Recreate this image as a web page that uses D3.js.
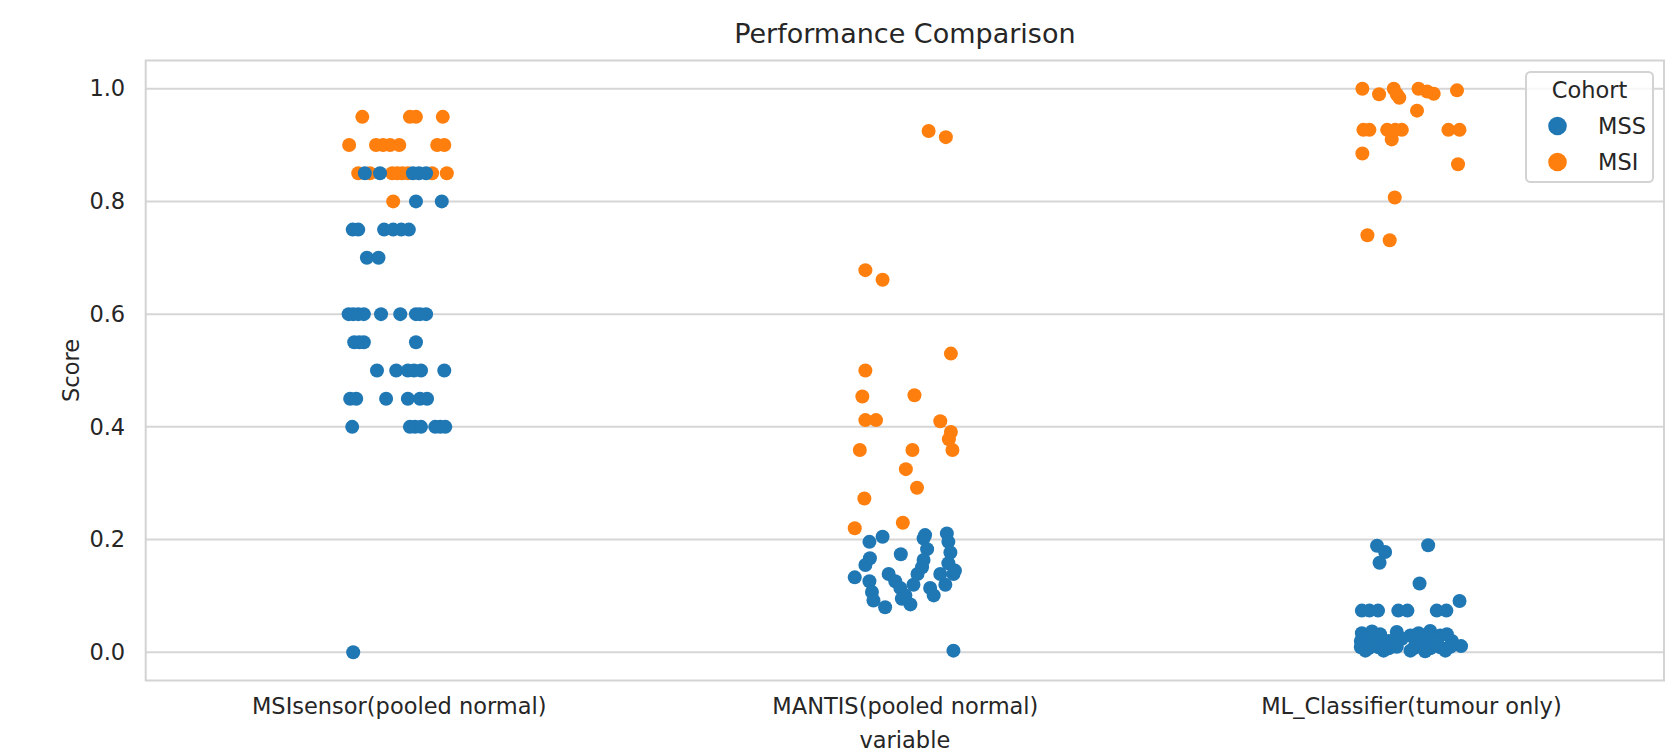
<!DOCTYPE html>
<html>
<head>
<meta charset="utf-8">
<script src="https://cdn.jsdelivr.net/npm/d3@7"></script>
<style>
  body { margin: 0; background: #fff; }
  svg text { font-family: "DejaVu Sans", sans-serif; fill: #262626; }
</style>
</head>
<body>
<div id="scatter"></div>
<script>
// Chart data

var categories = ["MSIsensor(pooled normal)", "MANTIS(pooled normal)", "ML_Classifier(tumour only)"];
var cohorts = ["MSS", "MSI"];
var cohortColors = ["#1f77b4", "#ff7f0e"];
var yTicks = [0.0, 0.2, 0.4, 0.6, 0.8, 1.0];

// each point is [score, jitter] (jitter = strip offset in category units)
var msisensorMSI = [
  [0.95, -0.072], [0.95, 0.022], [0.95, 0.034], [0.95, 0.087],
  [0.9, -0.098], [0.9, -0.045], [0.9, -0.031], [0.9, -0.017], [0.9, 0.001], [0.9, 0.076], [0.9, 0.090],
  [0.85, -0.080], [0.85, -0.057], [0.85, -0.013], [0.85, -0.003], [0.85, 0.007], [0.85, 0.018], [0.85, 0.066], [0.85, 0.095],
  [0.8, -0.011]
];
var msisensorMSS = [
  [0.85, -0.067], [0.85, -0.037], [0.85, 0.028], [0.85, 0.040], [0.85, 0.054],
  [0.8, 0.034], [0.8, 0.085],
  [0.75, -0.091], [0.75, -0.080], [0.75, -0.029], [0.75, -0.011], [0.75, 0.005], [0.75, 0.020],
  [0.7, -0.063], [0.7, -0.040],
  [0.6, -0.099], [0.6, -0.090], [0.6, -0.080], [0.6, -0.069], [0.6, -0.035], [0.6, 0.003], [0.6, 0.034], [0.6, 0.042], [0.6, 0.054],
  [0.55, -0.088], [0.55, -0.078], [0.55, -0.069], [0.55, 0.034],
  [0.5, -0.043], [0.5, -0.005], [0.5, 0.018], [0.5, 0.030], [0.5, 0.044], [0.5, 0.090],
  [0.45, -0.096], [0.45, -0.084], [0.45, -0.025], [0.45, 0.018], [0.45, 0.042], [0.45, 0.056],
  [0.4, -0.092], [0.4, 0.022], [0.4, 0.032], [0.4, 0.044], [0.4, 0.072], [0.4, 0.082], [0.4, 0.092],
  [0.0, -0.090]
];

var mantisMSI = [
  [0.925, 0.047], [0.914, 0.081], [0.678, -0.078], [0.661, -0.044], [0.530, 0.091], [0.500, -0.078],
  [0.454, -0.084], [0.456, 0.019], [0.412, -0.078], [0.412, -0.057], [0.410, 0.070], [0.391, 0.091],
  [0.378, 0.087], [0.359, 0.094], [0.359, -0.089], [0.359, 0.015], [0.325, 0.002], [0.292, 0.024],
  [0.273, -0.080], [0.230, -0.004], [0.220, -0.099]
];
var mantisMSS = [
  [0.196, -0.070], [0.205, -0.044], [0.133, -0.099], [0.167, -0.069], [0.155, -0.078], [0.126, -0.070],
  [0.107, -0.065], [0.092, -0.062], [0.080, -0.039], [0.174, -0.008], [0.139, -0.032], [0.126, -0.019],
  [0.114, -0.009], [0.101, 0.001], [0.085, 0.011], [0.095, -0.006], [0.120, 0.017], [0.139, 0.025],
  [0.151, 0.034], [0.202, 0.037], [0.208, 0.040], [0.183, 0.044], [0.164, 0.037], [0.114, 0.050],
  [0.101, 0.057], [0.211, 0.083], [0.196, 0.086], [0.177, 0.090], [0.158, 0.086], [0.139, 0.096],
  [0.145, 0.099], [0.120, 0.080], [0.139, 0.070], [0.003, 0.096]
];

var mlMSI = [
  [1.0, -0.096], [0.99, -0.063], [1.0, -0.034], [0.99, -0.028], [0.984, -0.023], [1.0, 0.015],
  [0.995, 0.032], [0.991, 0.045], [0.997, 0.091], [0.961, 0.012],
  [0.927, -0.094], [0.927, -0.082], [0.927, -0.047], [0.927, -0.031], [0.927, -0.018], [0.927, 0.074], [0.927, 0.096],
  [0.910, -0.038], [0.885, -0.096], [0.866, 0.093], [0.807, -0.032], [0.740, -0.086], [0.731, -0.042]
];
var mlMSS = [
  [0.189, -0.067], [0.178, -0.051], [0.159, -0.062], [0.190, 0.034], [0.122, 0.017], [0.091, 0.096],
  [0.074, -0.097], [0.074, -0.082], [0.074, -0.065], [0.074, -0.025], [0.074, -0.007], [0.074, 0.051], [0.074, 0.070],
  [0.034, -0.097], [0.037, -0.077], [0.032, -0.061], [0.036, -0.028], [0.030, -0.001], [0.034, 0.015], [0.038, 0.038], [0.030, 0.058], [0.032, 0.071],
  [0.020, -0.099], [0.018, -0.087], [0.022, -0.067], [0.020, -0.044], [0.024, -0.018], [0.019, 0.009], [0.022, 0.028], [0.020, 0.051], [0.020, 0.081],
  [0.009, -0.099], [0.007, -0.084], [0.009, -0.064], [0.007, -0.044], [0.010, -0.028], [0.007, 0.005], [0.009, 0.022], [0.007, 0.038], [0.009, 0.058], [0.010, 0.078], [0.011, 0.099],
  [0.003, -0.090], [0.003, -0.054], [0.003, -0.001], [0.002, 0.028], [0.003, 0.068]
];

// Build one flat list (MSI drawn first, MSS on top like the original)
var groups = [
  { cat: 0, cohort: 1, values: msisensorMSI }, { cat: 0, cohort: 0, values: msisensorMSS },
  { cat: 1, cohort: 1, values: mantisMSI }, { cat: 1, cohort: 0, values: mantisMSS },
  { cat: 2, cohort: 1, values: mlMSI }, { cat: 2, cohort: 0, values: mlMSS }
];
var points = [];
groups.forEach(function(g) {
  g.values.forEach(function(v) {
    points.push({ cat: g.cat, cohort: g.cohort, score: v[0], jitter: v[1] });
  });
});

// Create SVG

var width = 1679;
var height = 756;
var plotLeft = 145.7;
var plotRight = 1664;
var plotTop = 60.5;
var plotBottom = 680.5;
var tickFont = 22.5;

var svg = d3.select("#scatter")
  .append("svg")
  .attr("width", width)
  .attr("height", height);

// Scales

var xScale = d3.scaleLinear()
  .domain([-0.5, categories.length - 0.5])
  .range([plotLeft, plotRight]);

var yScale = d3.scaleLinear()
  .domain([-0.05, 1.05])
  .range([plotBottom, plotTop]);

// Grid lines
svg.append("g")
  .attr("class", "grid")
  .selectAll("line")
  .data(yTicks)
  .enter()
  .append("line")
  .attr("x1", plotLeft)
  .attr("x2", plotRight)
  .attr("y1", function(d) { return yScale(d); })
  .attr("y2", function(d) { return yScale(d); })
  .attr("stroke", "#d6d6d6")
  .attr("stroke-width", 2);

// Frame
svg.append("rect")
  .attr("x", plotLeft)
  .attr("y", plotTop)
  .attr("width", plotRight - plotLeft)
  .attr("height", plotBottom - plotTop)
  .attr("fill", "none")
  .attr("stroke", "#d3d3d3")
  .attr("stroke-width", 2);

// Axes

var yAxis = d3.axisLeft(yScale)
  .tickValues(yTicks)
  .tickFormat(d3.format(".1f"))
  .tickSize(0)
  .tickPadding(20.5);

svg.append("g")
  .attr("class", "yAxis")
  .attr("transform", "translate(" + plotLeft + ",0)")
  .call(yAxis)
  .call(function(g) { g.select(".domain").remove(); })
  .selectAll("text")
  .attr("font-size", tickFont)
  .attr("font-family", "DejaVu Sans")
  .attr("fill", "#262626");

var xAxis = d3.axisBottom(xScale)
  .tickValues(d3.range(categories.length))
  .tickFormat(function(i) { return categories[i]; })
  .tickSize(0)
  .tickPadding(17.5);

svg.append("g")
  .attr("class", "xAxis")
  .attr("transform", "translate(0," + plotBottom + ")")
  .call(xAxis)
  .call(function(g) { g.select(".domain").remove(); })
  .selectAll("text")
  .attr("font-size", tickFont)
  .attr("font-family", "DejaVu Sans")
  .attr("fill", "#262626");

// Points
svg.append("g")
  .attr("class", "points")
  .selectAll("circle")
  .data(points)
  .enter()
  .append("circle")
  .attr("cx", function(d) { return xScale(d.cat + d.jitter); })
  .attr("cy", function(d) { return yScale(d.score); })
  .attr("r", 7)
  .attr("fill", function(d) { return cohortColors[d.cohort]; });

// Title and axis labels
svg.append("text")
  .attr("x", (plotLeft + plotRight) / 2)
  .attr("y", 43)
  .attr("text-anchor", "middle")
  .attr("font-size", 27)
  .text("Performance Comparison");

svg.append("text")
  .attr("x", (plotLeft + plotRight) / 2)
  .attr("y", 748)
  .attr("text-anchor", "middle")
  .attr("font-size", tickFont)
  .text("variable");

svg.append("text")
  .attr("transform", "translate(79," + (plotTop + plotBottom) / 2 + ")rotate(-90)")
  .attr("text-anchor", "middle")
  .attr("font-size", tickFont)
  .text("Score");

// Legend
var legend = svg.append("g").attr("class", "legend");

legend.append("rect")
  .attr("x", 1526)
  .attr("y", 72)
  .attr("width", 127)
  .attr("height", 110)
  .attr("rx", 4.5)
  .attr("fill", "#fff")
  .attr("fill-opacity", 0.8)
  .attr("stroke", "#d3d3d3")
  .attr("stroke-width", 2);

legend.append("text")
  .attr("x", 1589.5)
  .attr("y", 98)
  .attr("text-anchor", "middle")
  .attr("font-size", tickFont)
  .text("Cohort");

var legendRows = legend.selectAll("g.row")
  .data(cohorts)
  .enter()
  .append("g")
  .attr("class", "row")
  .attr("transform", function(d, i) { return "translate(0," + (126 + i * 36) + ")"; });

legendRows.append("circle")
  .attr("cx", 1557.5)
  .attr("cy", 0)
  .attr("r", 9.3)
  .attr("fill", function(d, i) { return cohortColors[i]; });

legendRows.append("text")
  .attr("x", 1598)
  .attr("y", 8)
  .attr("font-size", tickFont)
  .text(function(d) { return d; });
</script>
</body>
</html>
